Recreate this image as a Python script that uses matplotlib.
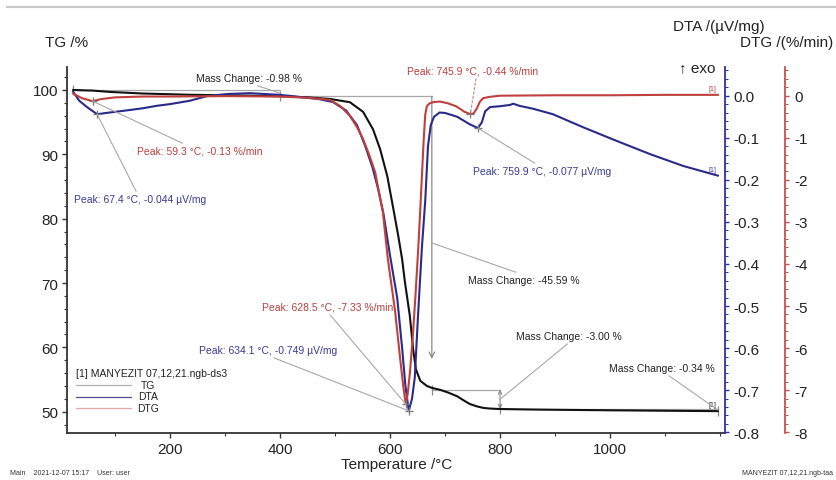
import matplotlib
matplotlib.use("Agg")
import matplotlib.pyplot as plt
from matplotlib.ticker import MultipleLocator, FixedLocator, FormatStrFormatter
from matplotlib.lines import Line2D

plt.rcParams['font.family'] = ['Liberation Sans', 'DejaVu Sans']
plt.rcParams['axes.unicode_minus'] = False

# ---------------- data ----------------
T_tg = [24, 60, 90, 150, 240, 320, 400, 450, 491, 527, 551, 569, 582, 595, 605, 615, 622,
        627, 636, 642, 647, 655, 667, 676, 691, 705, 722, 735, 745, 757, 769, 780, 795,
        850, 900, 1000, 1100, 1196]
tg = [100.0, 99.9, 99.7, 99.45, 99.25, 99.15, 99.02, 98.85, 98.6, 98.1, 96.6, 93.9, 90.8,
      86.6, 82.0, 77.3, 73.7, 70.2, 64.9, 59.7, 56.6, 54.8, 54.0, 53.7, 53.4, 53.0, 52.4,
      51.7, 51.2, 50.85, 50.6, 50.5, 50.43, 50.35, 50.3, 50.22, 50.15, 50.09]

T_dta = [24, 35, 49, 67.4, 90, 115, 150, 176, 200, 236, 267, 304, 345, 400, 436, 470, 496,
         520, 540, 555, 568, 578, 588, 600, 613, 622, 628, 634.1, 640, 645, 651, 658, 664,
         669, 674, 680, 690, 700, 722, 745, 759.9, 767, 773, 782, 800, 818, 824, 835, 860,
         896, 951, 1013, 1073, 1133, 1196]
dta = [0.009, -0.012, -0.027, -0.044, -0.040, -0.036, -0.030, -0.024, -0.020, -0.012,
       -0.001, 0.004, 0.006, 0.002, -0.003, -0.008, -0.015, -0.035, -0.07, -0.12, -0.17,
       -0.22, -0.28, -0.38, -0.48, -0.60, -0.69, -0.749, -0.72, -0.67, -0.52, -0.36, -0.25,
       -0.12, -0.07, -0.05, -0.04, -0.041, -0.05, -0.068, -0.077, -0.063, -0.037, -0.027,
       -0.025, -0.022, -0.019, -0.024, -0.031, -0.044, -0.075, -0.108, -0.139, -0.167, -0.19]

T_dtg = [24, 40, 59.3, 75, 100, 150, 200, 300, 400, 450, 491, 510, 527, 540, 551, 562, 573,
         587, 596, 609, 618, 624, 628.5, 632, 636, 641, 646, 651, 655, 658, 661, 664, 667,
         672, 680, 691, 705, 720, 735, 745.9, 752, 758, 763, 769, 780, 800, 900, 1000,
         1100, 1196]
dtg = [0.05, -0.06, -0.13, -0.08, -0.04, -0.02, -0.02, -0.01, -0.02, -0.05, -0.1, -0.25,
       -0.48, -0.75, -1.03, -1.4, -1.82, -2.77, -3.88, -5.1, -6.2, -6.9, -7.33, -7.1, -6.6,
       -5.8, -4.8, -3.7, -2.7, -1.9, -1.1, -0.45, -0.25, -0.18, -0.15, -0.14, -0.18, -0.25,
       -0.38, -0.44, -0.42, -0.3, -0.15, -0.06, -0.03, 0.0, 0.01, 0.01, 0.02, 0.02]

x_ticks = [200, 400, 600, 800, 1000]
tg_ticks = [50, 60, 70, 80, 90, 100]
dta_ticks = [0.0, -0.1, -0.2, -0.3, -0.4, -0.5, -0.6, -0.7, -0.8]
dtg_ticks = [0, -1, -2, -3, -4, -5, -6, -7, -8]

dtg_peak_T = [59.3, 628.5, 745.9]
dtg_peak_v = [-0.13, -7.33, -0.44]
dta_peak_T = [67.4, 634.1, 759.9]
dta_peak_v = [-0.044, -0.749, -0.077]
step_T = [24, 400, 676, 800, 1196]
step_tg = [100.0, 99.02, 53.43, 50.43, 50.09]
mass_changes = ["-0.98", "-45.59", "-3.00", "-0.34"]

# ---------------- style ----------------
C_TG = '#111111'
C_DTA = '#2a2a8a'
C_DTG = '#c0403c'
C_DTA_T = '#3a3a96'
C_DTG_T = '#b8403c'
GRAY = '#a8a8a8'

W, H = 837, 481
L, R, B, TOP = 67, 725, 434, 68

fig = plt.figure(figsize=(W / 100, H / 100), dpi=100)
ax = fig.add_axes([L / W, 1 - B / H, (R - L) / W, (B - TOP) / H])
ax.patch.set_alpha(0)


def afr(px, py):
    return ((px - L) / (R - L), (B - py) / (B - TOP))


def ffr(px, py):
    return (px / W, 1 - py / H)


ax.set_xlim(12.7, 1209)
ax.set_ylim(46.69, 103.57)
ax2 = ax.twinx()
ax2.set_ylim(-0.8017, 0.0682)
ax3 = ax.twinx()
ax3.set_ylim(-8.017, 0.682)
ax3.spines['right'].set_position(('axes', (785 - L) / (R - L)))

for a in (ax, ax2, ax3):
    a.spines['top'].set_visible(False)
ax.spines['right'].set_visible(False)
for a in (ax2, ax3):
    a.spines['left'].set_visible(False)
    a.spines['bottom'].set_visible(False)
ax.spines['left'].set_color('#333333')
ax.spines['bottom'].set_color('#333333')
ax2.spines['right'].set_color('#3030a8')
ax3.spines['right'].set_color('#c85050')
for a in (ax, ax2, ax3):
    for s in a.spines.values():
        s.set_linewidth(1.3)

ax.xaxis.set_major_locator(FixedLocator(x_ticks))
ax.xaxis.set_minor_locator(MultipleLocator(100))
ax.yaxis.set_major_locator(FixedLocator(tg_ticks))
ax.yaxis.set_minor_locator(MultipleLocator(2))
ax2.yaxis.set_major_locator(FixedLocator(dta_ticks))
ax2.yaxis.set_minor_locator(MultipleLocator(0.02))
ax2.yaxis.set_major_formatter(FormatStrFormatter('%.1f'))
ax3.yaxis.set_major_locator(FixedLocator(dtg_ticks))
ax3.yaxis.set_minor_locator(MultipleLocator(0.2))
ax3.yaxis.set_major_formatter(FormatStrFormatter('%d'))

ax.tick_params(axis='both', which='major', labelsize=11, length=3.5, width=1, pad=3,
               colors='#333333', labelcolor='#222222')
ax.tick_params(axis='both', which='minor', length=2, width=0.8, colors='#333333')
ax2.tick_params(axis='y', which='major', labelsize=11, length=3, width=1, pad=3,
                colors='#3030a8', labelcolor='#222222')
ax2.tick_params(axis='y', which='minor', length=1.8, width=0.7, colors='#3030a8')
ax3.tick_params(axis='y', which='major', labelsize=11, length=3, width=1, pad=4,
                colors='#c85050', labelcolor='#222222')
ax3.tick_params(axis='y', which='minor', length=1.8, width=0.7, colors='#c85050')

# ---------------- mass change markers ----------------
ax.plot(step_T[0:2], [step_tg[0]] * 2, color=GRAY, lw=0.9, zorder=1)
ax.plot(step_T[1:3], [step_tg[1]] * 2, color=GRAY, lw=0.9, zorder=1)
ax.plot(step_T[2:4], [step_tg[2]] * 2, color=GRAY, lw=0.9, zorder=1)
ax.plot(step_T[3:5], [step_tg[3]] * 2, color=GRAY, lw=0.9, zorder=1)
ax.annotate('', xy=(step_T[2], 58.2), xytext=(step_T[2], step_tg[1]),
            arrowprops=dict(arrowstyle='->', color='#888888', lw=0.9, shrinkA=0, shrinkB=0))
ax.annotate('', xy=(step_T[3], step_tg[3]), xytext=(step_T[3], step_tg[2]),
            arrowprops=dict(arrowstyle='<->', color='#888888', lw=0.8, shrinkA=0, shrinkB=0,
                            mutation_scale=6))
for t, v in zip(step_T, step_tg):
    ax.plot([t], [v], marker='|', ms=7, color='#888888', mew=0.9, zorder=2)

# ---------------- curves ----------------
ax.plot(T_tg, tg, color=C_TG, lw=1.5, zorder=4)
ax2.plot(T_dta, dta, color=C_DTA, lw=1.5, zorder=4)
ax3.plot(T_dtg, dtg, color=C_DTG, lw=1.5, zorder=3)

ax2.plot(dta_peak_T, dta_peak_v, ls='none', marker='+', ms=6, mew=0.9, color='#777777', zorder=5)
ax3.plot(dtg_peak_T, dtg_peak_v, ls='none', marker='+', ms=6, mew=0.9, color='#777777', zorder=5)

# ---------------- annotations ----------------
FS = 7.5
lead = dict(arrowstyle='-', color=GRAY, lw=0.8, shrinkA=0, shrinkB=0)


def note(axis, text, xy, px, py, rel, color, ls='-', lcolor=GRAY):
    p = dict(lead)
    p['relpos'] = rel
    p['linestyle'] = ls
    p['color'] = lcolor
    axis.annotate(text, xy=xy, xycoords='data', xytext=afr(px, py), textcoords='axes fraction',
                  ha='left', va='center', fontsize=FS, color=color, arrowprops=p, zorder=6)


note(ax3, f"Peak: {dtg_peak_T[0]} °C, {dtg_peak_v[0]:.2f} %/min", (dtg_peak_T[0], dtg_peak_v[0]),
     137, 152, (0.41, 1.0), C_DTG_T)
note(ax2, f"Peak: {dta_peak_T[0]} °C, {dta_peak_v[0]:.3f} µV/mg", (dta_peak_T[0], dta_peak_v[0]),
     74, 200, (0.48, 1.0), C_DTA_T)
note(ax3, f"Peak: {dtg_peak_T[2]} °C, {dtg_peak_v[2]:.2f} %/min", (dtg_peak_T[2], dtg_peak_v[2]),
     407, 72, (0.53, 0.0), C_DTG_T, ls=(0, (2, 2)), lcolor='#d08080')
note(ax2, f"Peak: {dta_peak_T[2]} °C, {dta_peak_v[2]:.3f} µV/mg", (dta_peak_T[2], dta_peak_v[2]),
     473, 172, (0.48, 1.0), C_DTA_T)
note(ax3, f"Peak: {dtg_peak_T[1]} °C, {dtg_peak_v[1]:.2f} %/min", (dtg_peak_T[1], dtg_peak_v[1]),
     262, 308, (0.5, 0.0), C_DTG_T)
note(ax2, f"Peak: {dta_peak_T[1]} °C, {dta_peak_v[1]:.3f} µV/mg", (dta_peak_T[1], dta_peak_v[1]),
     199, 351, (0.49, 0.0), C_DTA_T)

note(ax, f"Mass Change: {mass_changes[0]} %", (step_T[1], (step_tg[0] + step_tg[1]) / 2),
     196, 79, (0.5, 0.0), '#222222')
note(ax, f"Mass Change: {mass_changes[1]} %", (step_T[2], (step_tg[1] + step_tg[2]) / 2),
     468, 281, (0.5, 1.0), '#222222')
note(ax, f"Mass Change: {mass_changes[2]} %", (step_T[3], (step_tg[2] + step_tg[3]) / 2),
     516, 337, (0.52, 0.0), '#222222')
note(ax, f"Mass Change: {mass_changes[3]} %", (step_T[4], (step_tg[3] + step_tg[4]) / 2),
     609, 369, (0.53, 0.0), '#222222')

# curve end labels
ax3.annotate('[1]', xy=(T_dtg[-1], dtg[-1]), xytext=(-1, 2), textcoords='offset points',
             ha='right', va='bottom', fontsize=5, color=C_DTG_T)
ax2.annotate('[1]', xy=(T_dta[-1], dta[-1]), xytext=(-1, 2), textcoords='offset points',
             ha='right', va='bottom', fontsize=5, color=C_DTA_T)
ax.annotate('[1]', xy=(T_tg[-1], tg[-1]), xytext=(-1, 2), textcoords='offset points',
            ha='right', va='bottom', fontsize=5, color='#222222')

# ---------------- axis titles & misc text ----------------
fig.text(*ffr(45, 43), "TG /%", fontsize=11, ha='left', va='center', color='#222222')
fig.text(*ffr(765, 27), "DTA /(µV/mg)", fontsize=11, ha='right', va='center', color='#222222')
fig.text(*ffr(833, 43), "DTG /(%/min)", fontsize=11, ha='right', va='center', color='#222222')
fig.text(*ffr(715, 68), "↑ exo", fontsize=11, ha='right', va='center', color='#222222')
fig.text(*ffr(397, 465), "Temperature /°C", fontsize=11, ha='center', va='center', color='#222222')
fig.text(*ffr(10, 474), "Main    2021-12-07 15:17    User: user", fontsize=5, ha='left',
         va='center', color='#333333')
fig.text(*ffr(833, 474), "MANYEZIT 07,12,21.ngb-taa", fontsize=5, ha='right', va='center',
         color='#333333')

# top separator line
fig.add_artist(Line2D([7 / W, 1.0], [1 - 8 / H] * 2, color='#c8c8c8', lw=1.5))

# legend
fig.text(*ffr(76, 374), "[1] MANYEZIT 07,12,21.ngb-ds3", fontsize=7.5, ha='left', va='center',
         color='#222222')
leg_names = ["TG", "DTA", "DTG"]
leg_cols = ['#b0b0b0', '#50508a', '#e0a8a8']
for i, (nm, c) in enumerate(zip(leg_names, leg_cols)):
    yy = 386 + i * 11.5
    fig.add_artist(Line2D([76 / W, 131 / W], [1 - yy / H] * 2, color=c, lw=0.9))
    fig.text(*ffr(148, yy), nm, fontsize=7.5, ha='center', va='center', color='#222222')

fig.savefig("out.png", dpi=100)
